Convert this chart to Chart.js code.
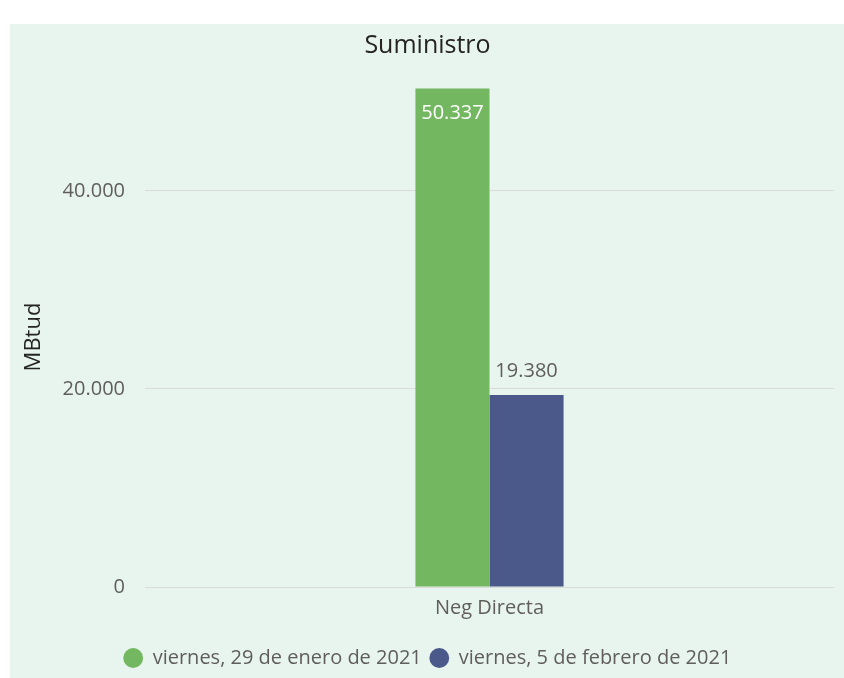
<!DOCTYPE html>
<html>
<head>
<meta charset="utf-8">
<script src="https://cdn.jsdelivr.net/npm/chart.js@4"></script>
<style>
  body { margin: 0; background: #fff; }
  #panel { position: absolute; left: 10px; top: 24px; width: 834px; height: 654px; background: #e7f5ee; }
  canvas { display: block; }
</style>
</head>
<body>
<div id="panel"><canvas id="chart" width="834" height="654"></canvas></div>
<script>
const categories = ['Neg Directa'];
const seriesNames = ['viernes, 29 de enero de 2021', 'viernes, 5 de febrero de 2021'];
const seriesValues = [[50337], [19380]];
const seriesColors = ['#73b761', '#4a588a'];
const yTicks = [0, 20000, 40000];

const FONT = '"Open Sans", "Noto Sans", sans-serif';
const fmt = v => String(Math.round(v)).replace(/\B(?=(\d{3})+(?!\d))/g, '.');

const valueLabels = {
  id: 'valueLabels',
  afterDatasetsDraw(chart) {
    const ctx = chart.ctx;
    ctx.save();
    ctx.font = '20px ' + FONT;
    ctx.textAlign = 'center';
    ctx.textBaseline = 'middle';
    chart.data.datasets.forEach((ds, i) => {
      chart.getDatasetMeta(i).data.forEach((bar, j) => {
        const h = bar.base - bar.y;
        if (h > 300) { ctx.fillStyle = '#ffffff'; ctx.fillText(fmt(ds.data[j]), bar.x, bar.y + 25); }
        else { ctx.fillStyle = '#605e5c'; ctx.fillText(fmt(ds.data[j]), bar.x, bar.y - 24); }
      });
    });
    ctx.restore();
  }
};

new Chart(document.getElementById('chart'), {
  type: 'bar',
  data: {
    labels: categories,
    datasets: seriesNames.map((n, i) => ({ label: n, data: seriesValues[i], backgroundColor: seriesColors[i], barPercentage: 1, categoryPercentage: 0.215 }))
  },
  options: {
    responsive: false, animation: false,
    layout: { padding: { left: 11, right: 10, top: 0, bottom: 0 } },
    plugins: {
      title: { display: true, text: 'Suministro', color: '#252423', font: { family: FONT, size: 25, weight: 'normal' }, padding: { top: 7, bottom: 26 } },
      legend: { position: 'bottom', labels: { usePointStyle: true, pointStyle: 'circle', boxWidth: 19, boxHeight: 14, color: '#605e5c', font: { family: FONT, size: 20 }, padding: 8 } },
      tooltip: { enabled: false }
    },
    scales: {
      x: {
        afterFit: s => { s.height = 53; },
        grid: { display: false, drawTicks: false }, border: { display: false },
        ticks: { color: '#605e5c', font: { family: FONT, size: 20 }, padding: 9 }
      },
      y: {
        min: 0, max: 50500,
        afterBuildTicks: s => { s.ticks = yTicks.map(v => ({ value: v })); },
        afterFit: s => { s.width = 124; },
        grid: { color: 'rgba(215,208,208,0.7)', drawTicks: false },
        border: { display: false },
        ticks: { color: '#605e5c', font: { family: FONT, size: 20 }, padding: 20, callback: v => fmt(v) },
        title: { display: true, text: 'MBtud', color: '#252423', font: { family: FONT, size: 22 }, padding: 0 }
      }
    }
  },
  plugins: [valueLabels]
});
</script>
</body>
</html>
